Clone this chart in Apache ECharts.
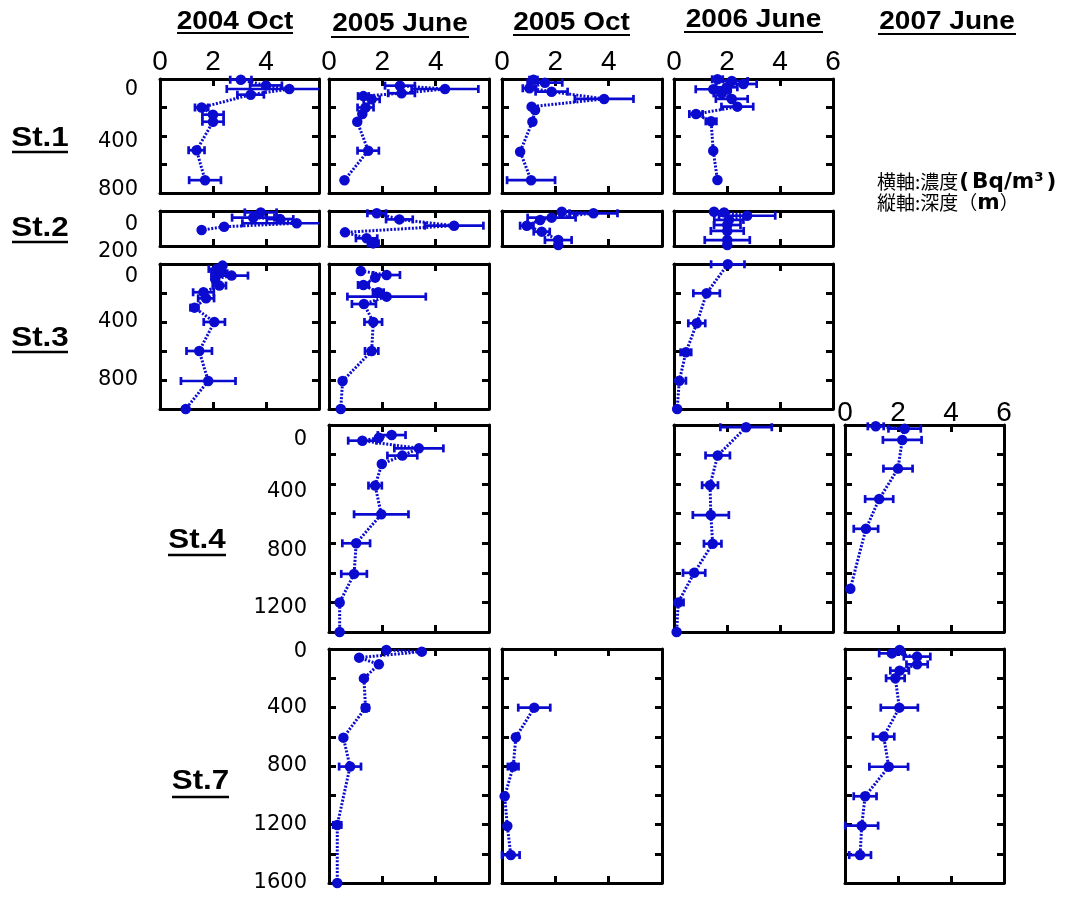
<!DOCTYPE html>
<html><head><meta charset="utf-8">
<script src="https://cdn.jsdelivr.net/npm/echarts@6/dist/echarts.min.js"></script>
<style>html,body{margin:0;padding:0;background:#fff}#c{width:1070px;height:898px}</style>
</head><body><div id="c"></div><script>
// ---- data: [concentration (Bq/m3), depth (m), half error] ----
const st1_2004Oct = [[3.05,5,0.4],[4.0,45,0.6],[4.88,70,2.36],[3.42,110,0.5],[1.57,200,0.25],[2.0,250,0.4],[2.0,300,0.4],[1.38,500,0.3],[1.7,710,0.6]];
const st1_2005Jun = [[2.66,47,0.56],[4.35,70,1.25],[2.72,100,0.5],[1.29,120,0.2],[1.6,142,0.3],[1.37,200,0.3],[1.25,246,0],[1.06,300,0],[1.47,503,0.4],[0.58,710,0]];
const st1_2005Oct = [[1.18,5,0.15],[1.61,26,0.65],[1.03,65,0.25],[1.86,89,0.6],[3.83,140,1.1],[1.11,194,0],[1.24,218,0],[1.14,300,0],[0.68,510,0],[1.09,710,0.9]];
const st1_2006Jun = [[1.64,2,0.2],[2.18,14,0.6],[2.62,35,0.5],[1.99,58,0.4],[1.48,72,0.66],[1.8,101,0.3],[2.18,140,0.6],[2.39,194,0.6],[0.83,246,0.25],[1.4,297,0.2],[1.48,503,0],[1.64,709,0]];

const st2_2004Oct = [[3.8,8,0.6],[3.52,38,0.8],[4.53,46,0.5],[5.16,70,2.05],[2.42,90,0],[1.57,109,0]];
const st2_2005Jun = [[1.79,13,0.35],[2.64,48,0.5],[4.69,84,1.1],[0.6,122,0],[1.41,156,0.4],[1.66,185,0.2]];
const st2_2005Oct = [[2.24,4,0],[3.43,13,0.9],[1.86,38,0.9],[1.43,51,0],[0.93,84,0.25],[1.49,118,0.3],[2.11,166,0.5],[2.11,194,0]];
const st2_2006Jun = [[1.51,4,0],[1.89,8,0],[2.76,27,1.06],[2.07,51,0.55],[2.01,80,0.5],[2.01,114,0.62],[2.01,166,0.85],[2.01,194,0]];

const st3_2004Oct = [[2.36,11,0],[2.14,34,0.3],[2.24,64,0.3],[2.7,80,0.62],[2.08,103,0],[2.24,149,0.25],[1.64,195,0.39],[1.74,237,0.3],[1.3,301,0.15],[2.05,400,0.4],[1.48,600,0.48],[1.82,807,1.03],[0.97,1000,0]];
const st3_2005Jun = [[1.19,48,0],[2.16,76,0.5],[1.73,94,0],[1.29,145,0.2],[1.85,195,0.2],[2.16,225,1.47],[1.31,276,0.45],[1.66,400,0.33],[1.6,600,0.25],[0.51,807,0],[0.44,1000,0]];
const st3_2006Jun = [[2.03,2,0.63],[1.23,202,0.5],[0.86,409,0.32],[0.45,609,0.2],[0.2,805,0.25],[0.12,1000,0]];

const st4_2005Jun = [[2.35,68,0.52],[1.87,86,0],[1.25,106,0.53],[3.37,158,0.92],[2.75,207,0.56],[1.98,264,0],[1.73,410,0.25],[1.96,604,1.02],[1.02,800,0.52],[0.94,1007,0.48],[0.4,1200,0],[0.4,1400,0]];
const st4_2006Jun = [[2.72,15,0.97],[1.65,206,0.46],[1.36,407,0.3],[1.39,609,0.68],[1.46,803,0.33],[0.76,1000,0.42],[0.16,1200,0.2],[0.1,1400,0]];
const st4_2007Jun = [[1.16,9,0.3],[2.25,25,0.61],[2.16,101,0.73],[2.0,295,0.55],[1.29,501,0.53],[0.79,702,0.46],[0.2,1107,0]];

const st7_2005Jun = [[2.15,7,0],[3.48,18,0],[1.13,59,0],[1.87,105,0],[1.31,201,0],[1.37,402,0.12],[0.54,606,0],[0.79,804,0.41],[0.31,1203,0.15],[0.31,1600,0]];
const st7_2005Oct = [[1.21,401,0.6],[0.52,604,0],[0.42,804,0.2],[0.1,1007,0],[0.2,1210,0],[0.33,1409,0.33]];
const st7_2007Jun = [[2.06,7,0],[1.77,30,0.48],[2.72,52,0.5],[2.72,105,0.4],[2.06,148,0.35],[1.9,200,0.35],[2.05,401,0.7],[1.46,599,0.4],[1.65,805,0.73],[0.76,1007,0.43],[0.63,1208,0.62],[0.57,1409,0.41]];

// ---- axis / text labels ----
const concMax = 6;
const concStep = 2;
const titles = ['2004 Oct', '2005 June', '2005 Oct', '2006 June', '2007 June'];
const stations = ['St.1', 'St.2', 'St.3', 'St.4', 'St.7'];
const depthLabels = { st1:[0,400,800], st2:[0,200], st3:[0,400,800], st4:[0,400,800,1200], st7:[0,400,800,1200,1600] };
const depthMax = { st1:800, st2:200, st3:1000, st4:1400, st7:1600 };
const legendLine1 = ['横軸:濃度', '(', 'Bq/m³', ')'];
const legendLine2 = ['縦軸:深度', '（', 'm', '）'];

// ---- layout (pixels) ----
const COLOR = '#0b0bd0';
const COLS = [{left:160,w:159},{left:329,w:160},{left:502,w:160},{left:674,w:159},{left:845,w:159}];
const ROWS = { st1:{top:79,h:114}, st2:{top:211,h:35}, st3:{top:264,h:145}, st4:{top:425,h:207}, st7:{top:649,h:234} };
const LABEL_SHIFT = { st1:[11,6,-3], st2:[14,6], st3:[13,0,0], st4:[15,7,7,5], st7:[3,0,0,0,0] };
const TITLE_POS = [{x1:177,x2:293,y:22,u:33},{x1:331,x2:469,y:24,u:37},{x1:513,x2:630,y:23,u:35},{x1:684,x2:823,y:20,u:32},{x1:878,x2:1016,y:22,u:34}];
const STATION_POS = [{x1:12,x2:68,y:138,u:152},{x1:12,x2:68,y:228,u:242},{x1:12,x2:68,y:338,u:352},{x1:168,x2:226,y:540,u:555},{x1:172,x2:229,y:781,u:797}];

const PANELS = [
  {row:'st1', col:0, data:st1_2004Oct, yLab:true, xLab:true},
  {row:'st1', col:1, data:st1_2005Jun, xLab:true},
  {row:'st1', col:2, data:st1_2005Oct, xLab:true},
  {row:'st1', col:3, data:st1_2006Jun, xLab:true, show6:true},
  {row:'st2', col:0, data:st2_2004Oct, yLab:true},
  {row:'st2', col:1, data:st2_2005Jun},
  {row:'st2', col:2, data:st2_2005Oct},
  {row:'st2', col:3, data:st2_2006Jun},
  {row:'st3', col:0, data:st3_2004Oct, yLab:true},
  {row:'st3', col:1, data:st3_2005Jun},
  {row:'st3', col:3, data:st3_2006Jun},
  {row:'st4', col:1, data:st4_2005Jun, yLab:true},
  {row:'st4', col:3, data:st4_2006Jun},
  {row:'st4', col:4, data:st4_2007Jun, xLab:true, show6:true, xMargin:-2},
  {row:'st7', col:1, data:st7_2005Jun, yLab:true},
  {row:'st7', col:2, data:st7_2005Oct},
  {row:'st7', col:4, data:st7_2007Jun}
];

const LABEL_FONT = 'DejaVu Sans';
function axisBase(extra){
  return Object.assign({
    type:'value', splitLine:{show:false},
    axisLine:{show:true, onZero:false, lineStyle:{color:'#000', width:3}},
    axisTick:{show:true, inside:true, length:7, lineStyle:{color:'#000', width:3}},
    axisLabel:{show:false}
  }, extra);
}

const grid = [], xAxis = [], yAxis = [], series = [];
PANELS.forEach((p, i) => {
  const c = COLS[p.col], r = ROWS[p.row];
  grid.push({left:c.left, top:r.top, width:c.w, height:r.h, show:false});
  xAxis.push(axisBase({gridIndex:i, position:'bottom', min:0, max:concMax, interval:concStep}));
  xAxis.push(axisBase({gridIndex:i, position:'top', min:0, max:concMax, interval:concStep,
    axisLabel:{show:!!p.xLab, margin:(p.xMargin!=null?p.xMargin:3), fontFamily:'Liberation Sans', fontSize:28, color:'#000',
      showMinLabel:true, showMaxLabel:true,
      formatter:(v)=> (v===concMax && !p.show6) ? '' : String(v)}}));
  const labs = depthLabels[p.row], shifts = LABEL_SHIFT[p.row];
  const rich = {};
  shifts.forEach((s, k) => { rich['s'+k] = {fontFamily:LABEL_FONT, fontSize:21, color:'#000', padding: s>=0 ? [2*s,0,0,0] : [0,0,-2*s,0]}; });
  yAxis.push(axisBase({gridIndex:i, position:'left', inverse:true, min:0, max:depthMax[p.row], interval:200,
    axisLabel:{show:!!p.yLab, margin:22, showMinLabel:true, showMaxLabel:true, rich:rich,
      formatter:(v)=>{ const k = labs.indexOf(v); return k<0 ? '' : '{s'+k+'|'+v+'}'; }}}));
  yAxis.push(axisBase({gridIndex:i, position:'right', inverse:true, min:0, max:depthMax[p.row], interval:200}));

  series.push({
    type:'custom', xAxisIndex:2*i, yAxisIndex:2*i, z:2, silent:true,
    data:p.data.filter(d=>d[2]>0),
    encode:{x:0, y:1},
    renderItem:(params, api)=>{
      const x = api.value(0), y = api.value(1), e = api.value(2);
      const lo = Math.max(0, x-e), hi = Math.min(concMax, x+e);
      const a = api.coord([lo, y]), b = api.coord([hi, y]);
      const st = {stroke:COLOR, lineWidth:2.7};
      const ch = [{type:'line', shape:{x1:a[0], y1:a[1], x2:b[0], y2:b[1]}, style:st}];
      const cap = 4;
      if (x-e >= 0) ch.push({type:'line', shape:{x1:a[0], y1:a[1]-cap, x2:a[0], y2:a[1]+cap}, style:st});
      if (x+e <= concMax) ch.push({type:'line', shape:{x1:b[0], y1:b[1]-cap, x2:b[0], y2:b[1]+cap}, style:st});
      return {type:'group', children:ch};
    }
  });
  series.push({
    type:'line', xAxisIndex:2*i, yAxisIndex:2*i, z:3, silent:true, animation:false,
    data:p.data.map(d=>[d[0], d[1]]),
    symbol:'circle', symbolSize:10.5, showSymbol:true, showAllSymbol:true,
    itemStyle:{color:COLOR},
    lineStyle:{color:COLOR, width:3, type:[2,1.6]}
  });
});

const graphic = [];
titles.forEach((t, k) => {
  const pos = TITLE_POS[k];
  graphic.push({type:'text', x:(pos.x1+pos.x2)/2, y:pos.y, scaleX:1.12,
    style:{text:t, font:'bold 25px "Liberation Sans", Arial, sans-serif', fill:'#000', align:'center', verticalAlign:'middle'}});
  graphic.push({type:'line', shape:{x1:pos.x1, y1:pos.u, x2:pos.x2, y2:pos.u}, style:{stroke:'#000', lineWidth:2}});
});
stations.forEach((t, k) => {
  const pos = STATION_POS[k];
  graphic.push({type:'text', x:(pos.x1+pos.x2)/2, y:pos.y, scaleX:1.12,
    style:{text:t, font:'bold 28px "Liberation Sans", Arial, sans-serif', fill:'#000', align:'center', verticalAlign:'middle'}});
  graphic.push({type:'line', shape:{x1:pos.x1, y1:pos.u, x2:pos.x2, y2:pos.u}, style:{stroke:'#000', lineWidth:2.5}});
});
const legendRich = {
  c:{fontFamily:'Noto Sans CJK JP', fontSize:19, fill:'#000', color:'#000'},
  b:{fontFamily:'DejaVu Sans', fontWeight:'bold', fontSize:21.5, fill:'#000', color:'#000'},
  pl:{fontFamily:'DejaVu Sans', fontWeight:'bold', fontSize:21.5, fill:'#000', color:'#000', padding:[0,3,0,1]},
  pr:{fontFamily:'DejaVu Sans', fontWeight:'bold', fontSize:21.5, fill:'#000', color:'#000', padding:[0,0,0,3]}
};
graphic.push({type:'text', x:877, y:182, style:{
  text:'{c|'+legendLine1[0]+'}{pl|'+legendLine1[1]+'}{b|'+legendLine1[2]+'}{pr|'+legendLine1[3]+'}', align:'left', verticalAlign:'middle', rich:legendRich}});
graphic.push({type:'text', x:877, y:203, style:{
  text:'{c|'+legendLine2[0]+legendLine2[1]+'}{b|'+legendLine2[2]+'}{c|'+legendLine2[3]+'}', align:'left', verticalAlign:'middle', rich:legendRich}});

const chart = echarts.init(document.getElementById('c'), null, {renderer:'canvas'});
chart.setOption({animation:false, backgroundColor:'#fff', grid, xAxis, yAxis, series, graphic});
</script></body></html>
